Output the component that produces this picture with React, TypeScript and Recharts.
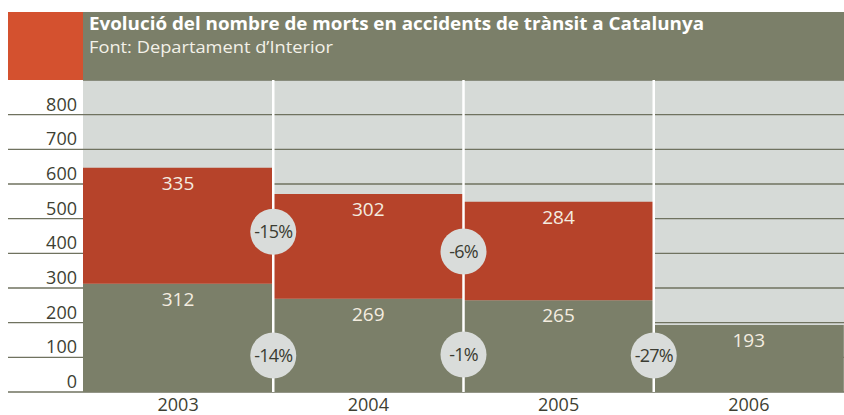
// App.tsx
//
// Traffic deaths in Catalonia, 2003–2006: stacked bars (olive lower part,
// red upper part) with % change badges on the category boundaries.

import {
  Bar,
  BarChart,
  CartesianGrid,
  LabelList,
  ReferenceDot,
  ReferenceLine,
  XAxis,
  YAxis,
} from "recharts";

const years = ["2003", "2004", "2005", "2006"];
const lowerValues = [312, 269, 265, 193];
const upperValues: (number | null)[] = [335, 302, 284, null];
const yTicks = [0, 100, 200, 300, 400, 500, 600, 700, 800];

// badges sitting on the boundaries between years (boundary index, y value, text)
const badgeBoundary = [1, 2, 1, 2, 3];
const badgeLevel = [462, 405, 105, 108, 105];
const badgeText = ["-15%", "-6%", "-14%", "-1%", "-27%"];

const RED = "#b6432a";
const OLIVE = "#7b7f69";
const PLOT_BG = "#d6dad7";
const GRID = "#6f725f";
const FONT = "'Open Sans', 'Noto Sans', sans-serif";

// slot = position of each bar's centre on a 0..4 numeric scale, used only by
// the hidden axis that carries the boundary lines and badges
const data = years.map((year, i) => ({
  year,
  slot: i + 0.5,
  lower: lowerValues[i],
  upper: upperValues[i],
}));

function YTick({ x, y, payload }: any) {
  return (
    <g>
      <line x1={8} x2={x + 6} y1={y} y2={y} stroke={GRID} strokeWidth={1.3} />
      <text
        x={x}
        y={y - 4}
        textAnchor="end"
        fontSize={18}
        fontFamily={FONT}
        fill="#3e3f33"
      >
        {payload.value}
      </text>
    </g>
  );
}

function BarValue({ x, y, width, value }: any) {
  if (value == null) return null;
  return (
    <text
      x={x + width / 2}
      y={y + 22}
      textAnchor="middle"
      fontSize={19}
      fontFamily={FONT}
      fill="#f4ede0"
    >
      {value}
    </text>
  );
}

export default function App() {
  return (
    <div style={{ position: "relative", width: 844, height: 415, background: "#fff" }}>
      <style>{`body{margin:0}`}</style>
      <div style={{ position: "absolute", left: 0, top: 0 }}>
        <BarChart
          width={844}
          height={415}
          data={data}
          margin={{ top: 80, right: 0, left: 0, bottom: 0 }}
          barCategoryGap={0}
        >
          <CartesianGrid
            vertical={false}
            stroke={GRID}
            strokeWidth={1.3}
            fill={PLOT_BG}
            fillOpacity={1}
          />
          <XAxis
            xAxisId="cat"
            dataKey="year"
            height={23}
            tickLine={false}
            axisLine={false}
            tickSize={0}
            tickMargin={6}
            tick={{ fontSize: 18, fontFamily: FONT, fill: "#3e3f33" }}
          />
          <XAxis
            xAxisId="num"
            dataKey="slot"
            type="number"
            domain={[0, 4]}
            allowDataOverflow
            hide
          />
          <YAxis
            width={83}
            domain={[0, 900]}
            ticks={yTicks}
            tickLine={false}
            axisLine={false}
            tickSize={0}
            tickMargin={6}
            tick={<YTick />}
          />
          <Bar xAxisId="cat" dataKey="lower" stackId="a" fill={OLIVE} isAnimationActive={false}>
            <LabelList dataKey="lower" content={<BarValue />} />
          </Bar>
          <Bar xAxisId="cat" dataKey="upper" stackId="a" fill={RED} isAnimationActive={false}>
            <LabelList dataKey="upper" content={<BarValue />} />
          </Bar>
          {[1, 2, 3].map((b) => (
            <ReferenceLine key={b} xAxisId="num" x={b} stroke="#ffffff" strokeWidth={2.5} />
          ))}
          {badgeText.map((t, i) => (
            <ReferenceDot
              key={t}
              xAxisId="num"
              x={badgeBoundary[i]}
              y={badgeLevel[i]}
              r={23}
              fill="#d9dcda"
              stroke="none"
              label={{
                value: t,
                position: "center",
                fontSize: 18,
                letterSpacing: -0.8,
                fontFamily: FONT,
                fill: "#3b3c32",
              }}
            />
          ))}
        </BarChart>
      </div>
      <svg
        width={844}
        height={80}
        style={{ position: "absolute", left: 0, top: 0 }}
      >
        <rect x={8} y={12} width={75} height={68} fill="#d4512f" />
        <rect x={83} y={12} width={761} height={68} fill={OLIVE} />
        <text
          x={89}
          y={30}
          fontSize={17}
          fontWeight={700}
          fontFamily={FONT}
          fill="#ffffff"
          textLength={615}
          lengthAdjust="spacingAndGlyphs"
        >
          Evolució del nombre de morts en accidents de trànsit a Catalunya
        </text>
        <text
          x={89}
          y={53}
          fontSize={16}
          fontFamily={FONT}
          fill="#f3f1e8"
          textLength={244}
          lengthAdjust="spacingAndGlyphs"
        >
          Font: Departament d’Interior
        </text>
      </svg>
    </div>
  );
}
